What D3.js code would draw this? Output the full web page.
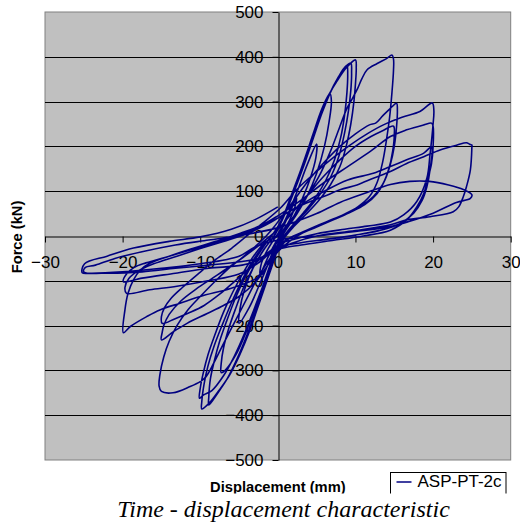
<!DOCTYPE html>
<html>
<head>
<meta charset="utf-8">
<script src="https://cdn.jsdelivr.net/npm/d3@7"></script>
<style>
  body { margin: 0; background: #fff; }
  svg { display: block; }
  .tick text { font-family: "Liberation Sans", Arial, sans-serif; font-size: 17px; fill: #000; }
</style>
</head>
<body>
<svg id="chart" width="520" height="522"></svg>
<script>
// displacement (mm), force (kN) pairs, one array per cycle
const cycle2p5 = [[0,0],[0.8,25],[1.6,55],[2.4,85],[2.2,65],[1.5,35],[0.6,8],[-0.3,-15],[-1.2,-45],[-2.3,-85],[-2.1,-60],[-1.3,-30],[-0.4,-5],[0.2,10]];
const cycle5 = [[0.2,10],[1.2,45],[2.5,100],[3.8,160],[5,205],[4.9,175],[4.2,130],[3.2,85],[2,42],[0.8,10],[-0.3,-20],[-1.2,-60],[-2.4,-110],[-3.7,-160],[-5,-195],[-4.9,-165],[-4.3,-120],[-3.2,-72],[-1.8,-30],[-0.3,5]];
const cycle7p5 = [[-0.3,5],[0.8,45],[2,95],[3.3,160],[4.5,225],[5.7,285],[6.7,318],[6.9,300],[6.6,255],[6,200],[5,140],[3.8,90],[2.4,48],[1.1,15],[0.1,-15],[-0.8,-55],[-1.8,-105],[-2.9,-160],[-4.1,-215],[-5.4,-265],[-6.8,-300],[-7.3,-305],[-7.3,-285],[-7,-250],[-6.3,-205],[-5.4,-160],[-4.3,-110],[-3,-65],[-1.7,-28],[-0.5,0]];
const cycle10a = [[-0.5,0],[0.5,35],[1.6,85],[2.8,140],[4,200],[5.2,260],[6.4,310],[7.6,345],[8.8,375],[10,393],[10.1,375],[10,340],[9.8,300],[9.4,250],[8.8,200],[8,155],[6.8,115],[5.3,80],[3.6,48],[2,20],[0.8,-5],[0,-30],[-0.8,-70],[-1.7,-115],[-2.7,-165],[-3.7,-215],[-4.9,-265],[-6.2,-310],[-7.6,-345],[-8.8,-372],[-9.8,-386],[-9.8,-370],[-9.5,-330],[-9,-290],[-8.2,-245],[-7.2,-200],[-6,-150],[-4.8,-105],[-3.4,-60],[-2,-25],[-0.6,5]];
const cycle10b = [[-0.6,5],[0.6,40],[1.8,90],[3,145],[4.2,205],[5.4,265],[6.6,315],[7.8,355],[8.7,378],[9.4,386],[9.5,365],[9.4,325],[9.1,280],[8.6,230],[7.9,180],[6.9,135],[5.5,95],[3.9,60],[2.2,28],[0.9,0],[0,-28],[-0.9,-72],[-1.9,-120],[-2.9,-170],[-4,-222],[-5.2,-272],[-6.5,-318],[-7.8,-352],[-8.9,-377],[-8.9,-360],[-8.7,-320],[-8.2,-280],[-7.5,-235],[-6.6,-190],[-5.5,-140],[-4.3,-95],[-3,-55],[-1.7,-20],[-0.4,10]];
const cycle10c = [[-0.4,10],[0.8,45],[2,95],[3.2,150],[4.5,215],[5.7,275],[6.9,325],[8,360],[8.9,381],[9,360],[8.9,320],[8.6,270],[8.1,220],[7.3,170],[6.2,125],[4.8,85],[3.3,52],[1.8,22],[0.6,-5],[-0.2,-30],[-1,-68],[-2,-115],[-3.1,-165],[-4.3,-218],[-5.6,-268],[-7,-312],[-8.5,-345],[-9.6,-355],[-10.1,-362],[-10,-340],[-9.6,-305],[-9,-265],[-8.1,-220],[-7,-170],[-5.8,-125],[-4.4,-80],[-3,-42],[-1.5,-12],[0,0]];
const cycle15a = [[0,0],[1.2,25],[2.5,55],[4,95],[5.5,140],[6.8,190],[7.9,240],[8.9,285],[9.7,310],[10.3,330],[10.8,350],[11.5,371],[12.8,385],[14,396],[14.7,404],[14.9,395],[14.9,370],[14.7,320],[14.4,265],[14,215],[13.5,165],[12.8,120],[11.8,88],[10.3,65],[8.5,48],[6.5,33],[4.5,18],[2.8,5],[1.5,-5],[0.5,-20],[-1,-50],[-2.5,-90],[-4,-140],[-5.5,-190],[-7,-240],[-8.3,-285],[-9.3,-315],[-10,-325],[-11.3,-336],[-13.5,-350],[-15,-347],[-15.3,-335],[-15.2,-310],[-14.7,-270],[-14,-235],[-13,-200],[-11.6,-165],[-10,-135],[-8.3,-105],[-6.5,-75],[-4.7,-50],[-3,-25],[-1.5,0],[-0.5,20]];
const cycle15b = [[-0.5,20],[0.8,50],[2.3,85],[4,125],[6,165],[8,200],[10,228],[11.8,248],[12.6,252],[13.5,268],[14.5,285],[15.3,296],[15.4,280],[15.3,245],[15,200],[14.5,160],[13.8,125],[12.8,95],[11.2,70],[9.2,52],[7,35],[5,20],[3,5],[1.5,-12],[0,-35],[-1.5,-70],[-3,-105],[-5,-135],[-7,-155],[-9.1,-173],[-11.7,-195],[-13.5,-214],[-15,-232],[-14.9,-215],[-14.7,-200],[-14,-175],[-12.5,-145],[-10.5,-118],[-8.5,-95],[-6.5,-72],[-4.5,-48],[-2.5,-22],[-1,0],[0.2,18]];
const cycle15c = [[0.2,18],[2,55],[4,95],[6,135],[8,170],[10,200],[12,222],[13.5,235],[14.9,245],[15,225],[14.8,190],[14.3,150],[13.5,115],[12.3,88],[10.5,65],[8.5,48],[6.3,32],[4,15],[2,0],[0.5,-15],[-1.5,-40],[-3.5,-70],[-5.5,-100],[-7.5,-130],[-9.5,-155],[-11.5,-172],[-13.3,-185],[-14.9,-195],[-15,-180],[-14.6,-160],[-13.8,-140],[-12.3,-115],[-10.3,-85],[-8.2,-55],[-6,-28],[-4,0],[-2,28],[0.3,62]];
const cycle20a = [[0.3,62],[2.5,105],[5,144],[7.3,177],[9.3,203],[11.5,228],[13.6,248],[16,265],[18.3,278],[19.9,297],[20.1,280],[20,250],[19.6,181],[19.2,129],[17.9,77],[16.2,47],[14.5,31],[11.5,22],[8.6,15],[5,5],[2,-8],[0,-20],[-1,-55],[-2,-85],[-3.1,-98],[-6.1,-117],[-10,-135],[-12.6,-150],[-15.2,-165],[-16.9,-180],[-19,-202],[-19.9,-216],[-19.7,-165],[-19.3,-128],[-18.6,-98],[-17.7,-76],[-16.5,-61],[-14,-45],[-11,-28],[-8,-12],[-5,5],[-2,25],[0,45]];
const cycle20b = [[0,45],[3,80],[6,120],[9,155],[12,190],[14.5,222],[16.6,237],[18.8,248],[19.8,252],[20,245],[20,199],[19.8,162],[19.4,132],[18.8,95],[17.9,65],[16.6,36],[14.5,13],[11,0],[7,-10],[3,-20],[0,-30],[-2,-50],[-4.6,-65],[-8.9,-72],[-13.2,-83],[-17.5,-94],[-19.9,-102],[-19.5,-85],[-18.5,-70],[-17,-60],[-14,-45],[-11,-30],[-8,-15],[-5,2],[-2,22],[0,40]];
const cycle20c = [[0,40],[3,70],[6,100],[9,125],[12.3,140],[14.5,155],[16.6,170],[18.8,185],[19.8,199],[19.6,147],[19.2,110],[18.6,80],[17.5,51],[15.8,28],[13,12],[10,2],[6,-8],[3,-15],[0,-25],[-2.5,-60],[-5,-85],[-9,-100],[-13,-112],[-16.5,-120],[-19.5,-128],[-19.7,-115],[-19.2,-95],[-18,-78],[-16,-62],[-13,-45],[-10,-28],[-7,-12],[-4,5],[-1.5,25],[0.5,45]];
const cycle25a = [[0.5,45],[3,68],[5.9,88],[8,103],[10.2,114],[12.3,129],[14.5,144],[16.6,162],[18.8,177],[20.9,192],[23.1,203],[24.3,208],[24.7,205],[25,203],[25,199],[24.8,147],[24.3,110],[23.9,88],[23.3,65],[22.6,54],[19.6,43],[16.6,36],[14.5,25],[10,12],[5,0],[2,-15],[0,-30],[-2.5,-50],[-4.6,-57],[-8.9,-65],[-13.2,-72],[-17.5,-80],[-21.8,-83],[-25,-80],[-24.8,-70],[-23.5,-65],[-21,-50],[-17.5,-35],[-13.2,-20],[-8.9,-9],[-4.6,2],[-0.3,17]];
const cycle25b = [[-0.3,17],[2,30],[5,50],[8,75],[11.5,97],[14.5,115],[17,122],[19.5,122],[22,114],[23.9,104],[25,92],[24.8,84],[23,75],[20,51],[17,33],[14.5,21],[10,10],[5,0],[0,-9],[-3,-25],[-5,-45],[-10,-62],[-15,-72],[-20,-80],[-24,-83],[-25.2,-82],[-24.9,-62],[-22,-45],[-18.6,-27],[-14,-12],[-10,-2],[-6,15],[-3,36],[0,65]];

const dispTicks = [-30, -20, -10, 0, 10, 20, 30];
const forceTicks = [-500, -400, -300, -200, -100, 0, 100, 200, 300, 400, 500];
const seriesName = 'ASP-PT-2c';

const cycles = [cycle2p5, cycle5, cycle7p5, cycle10a, cycle10b, cycle10c,
  cycle15a, cycle15b, cycle15c, cycle20a, cycle20b, cycle20c, cycle25a, cycle25b];
const points = [];
cycles.forEach((c, i) => c.forEach((p, j) => { if (i === 0 || j > 0) points.push(p); }));

const svg = d3.select('#chart');
const plot = { left: 45, right: 510.7, top: 12, bottom: 460 };

const x = d3.scaleLinear().domain([-30, 30]).range([plot.left, plot.right]);
const y = d3.scaleLinear().domain([-500, 500]).range([plot.bottom, plot.top]);

// plot area
svg.append('rect')
  .attr('x', plot.left).attr('y', plot.top)
  .attr('width', plot.right - plot.left).attr('height', plot.bottom - plot.top)
  .attr('fill', '#c0c0c0').attr('stroke', '#808080').attr('stroke-width', 1);

// horizontal gridlines
svg.append('g')
  .selectAll('line')
  .data(forceTicks.filter(v => v !== 0 && Math.abs(v) !== 500))
  .join('line')
  .attr('x1', plot.left).attr('x2', plot.right)
  .attr('y1', d => Math.round(y(d)) + 0.5).attr('y2', d => Math.round(y(d)) + 0.5)
  .attr('stroke', '#000').attr('stroke-width', 1);

// axes cross at zero
let yAxis = svg.append('g')
  .attr('transform', `translate(${Math.round(x(0)) + 0.5},0)`)
  .call(d3.axisLeft(y).tickValues(forceTicks).tickSize(6).tickSizeOuter(0).tickPadding(9));

let xAxis = svg.append('g')
  .attr('transform', `translate(0,${Math.round(y(0)) + 0.5})`)
  .call(d3.axisBottom(x).tickValues(dispTicks).tickSize(6).tickSizeOuter(0).tickPadding(13));

[xAxis, yAxis].forEach(a => {
  a.select('.domain').attr('stroke', '#000');
  a.selectAll('.tick line').attr('stroke', '#000');
  a.attr('font-family', null).attr('font-size', null);
});

// hysteresis curve
const line = d3.line()
  .x(d => x(d[0]))
  .y(d => y(d[1]))
  .curve(d3.curveCatmullRom.alpha(0.5));

svg.append('path')
  .datum(points)
  .attr('d', line)
  .attr('fill', 'none')
  .attr('stroke', '#000080')
  .attr('stroke-width', 1.6)
  .attr('stroke-linejoin', 'round');

// axis titles
svg.append('text')
  .attr('transform', `translate(22,${(plot.top + plot.bottom) / 2 + 1}) rotate(-90)`)
  .attr('text-anchor', 'middle')
  .attr('font-family', '"Liberation Sans", Arial, sans-serif')
  .attr('font-size', 14.7).attr('font-weight', 'bold')
  .text('Force (kN)');

svg.append('text')
  .attr('x', x(0)).attr('y', 492)
  .attr('text-anchor', 'middle')
  .attr('font-family', '"Liberation Sans", Arial, sans-serif')
  .attr('font-size', 14.7).attr('font-weight', 'bold')
  .text('Displacement (mm)');

// legend
const legend = svg.append('g').attr('transform', 'translate(390.5,472.5)');
legend.append('rect')
  .attr('width', 115.5).attr('height', 30)
  .attr('fill', '#fff').attr('stroke', '#000');
legend.append('line')
  .attr('x1', 6).attr('x2', 21).attr('y1', 9.5).attr('y2', 9.5)
  .attr('stroke', '#000080').attr('stroke-width', 1.5);
legend.append('text')
  .attr('x', 27).attr('y', 14.3)
  .attr('font-family', '"Liberation Sans", Arial, sans-serif')
  .attr('font-size', 17)
  .text(seriesName);

// caption strip covering the bottom of the chart
svg.append('rect')
  .attr('x', 0).attr('y', 493.5).attr('width', 520).attr('height', 30)
  .attr('fill', '#fff');

svg.append('text')
  .attr('x', 283.5).attr('y', 516.5)
  .attr('text-anchor', 'middle')
  .attr('font-family', '"Liberation Serif", "Times New Roman", serif')
  .attr('font-style', 'italic')
  .attr('font-size', 24)
  .text('Time - displacement characteristic');
</script>
</body>
</html>
